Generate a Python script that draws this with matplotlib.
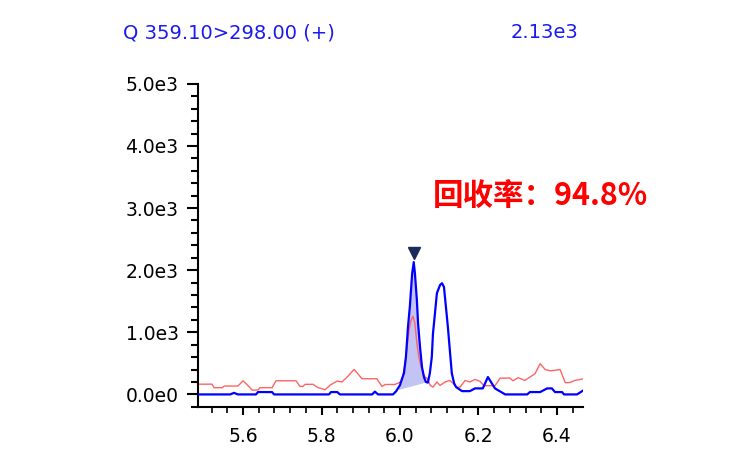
import matplotlib

matplotlib.use("Agg")
import matplotlib.pyplot as plt
import numpy as np
from matplotlib.ticker import FuncFormatter, MultipleLocator

# Quantifier trace (blue) and qualifier trace (red), retention time in min
blue_time = [5.485, 5.567, 5.577, 5.587, 5.633, 5.638, 5.674, 5.679, 5.819, 5.824,
             5.840, 5.847, 5.929, 5.936, 5.944, 5.982, 5.990, 5.995, 6.000, 6.005,
             6.010, 6.015, 6.018, 6.020, 6.025, 6.028, 6.031, 6.035, 6.038, 6.043,
             6.046, 6.051, 6.056, 6.061, 6.066, 6.071, 6.076, 6.081, 6.084, 6.089,
             6.094, 6.102, 6.107, 6.112, 6.117, 6.122, 6.127, 6.132, 6.138, 6.143,
             6.158, 6.178, 6.191, 6.211, 6.224, 6.242, 6.268, 6.324, 6.331, 6.357,
             6.375, 6.387, 6.395, 6.413, 6.418, 6.451, 6.466]
blue_int = [0, 0, 25, 0, 0, 38, 38, 0, 0, 38,
            38, 0, 0, 45, 0, 0, 50, 100, 150, 250,
            340, 600, 870, 1065, 1410, 1680, 1950, 2130, 1950, 1516,
            1145, 763, 440, 280, 200, 190, 340, 600, 980, 1300,
            1630, 1760, 1790, 1730, 1410, 1085, 710, 340, 177, 118,
            53, 53, 97, 97, 280, 97, 0, 0, 38, 38,
            97, 97, 38, 38, 0, 0, 60]

red_time = [5.485, 5.521, 5.526, 5.547, 5.552, 5.587, 5.600, 5.613, 5.623, 5.638,
            5.643, 5.674, 5.684, 5.735, 5.745, 5.753, 5.758, 5.778, 5.791, 5.809,
            5.822, 5.840, 5.852, 5.867, 5.883, 5.893, 5.903, 5.941, 5.954, 5.962,
            5.987, 5.998, 6.005, 6.013, 6.018, 6.023, 6.028, 6.033, 6.038, 6.043,
            6.048, 6.054, 6.059, 6.064, 6.069, 6.077, 6.084, 6.094, 6.102, 6.115,
            6.127, 6.135, 6.143, 6.153, 6.166, 6.178, 6.191, 6.204, 6.214, 6.242,
            6.255, 6.280, 6.288, 6.301, 6.318, 6.344, 6.357, 6.370, 6.383, 6.408,
            6.421, 6.431, 6.446, 6.466]
red_int = [165, 165, 108, 108, 135, 135, 220, 140, 70, 70,
           108, 108, 220, 220, 130, 130, 163, 163, 110, 75,
           150, 215, 200, 290, 403, 330, 253, 253, 128, 160,
           160, 190, 225, 500, 763, 1030, 1190, 1258, 1145, 822,
           600, 440, 340, 280, 260, 145, 118, 200, 145, 200,
           225, 180, 118, 118, 225, 200, 242, 210, 140, 140,
           263, 263, 220, 270, 225, 333, 495, 400, 380, 400,
           190, 190, 225, 250]

# Integrated peak: baseline drawn between these two points
base_time = [5.996, 6.066]
base_int = [80, 200]
apex_time = 6.035
apex_height = 2130

trace_label = "Q 359.10>298.00 (+)"
recovery_label = "回收率：94.8%"

fig = plt.figure(figsize=(7.56, 4.58), dpi=100)
ax = fig.add_axes([0.262, 0.111, 0.509, 0.706])

bt = np.array(blue_time)
bi = np.array(blue_int)
mask = (bt >= base_time[0]) & (bt <= base_time[1])
ft = np.concatenate([[base_time[0]], bt[mask], [base_time[1]]])
fi = np.interp(ft, bt, bi)
fb = np.interp(ft, base_time, base_int)
ax.fill_between(ft, fb, fi, color="#c4c4f4", lw=0, zorder=1)

ax.plot(red_time, red_int, color="#ff6464", lw=1.0, zorder=2)
ax.plot(blue_time, blue_int, color="#0000ff", lw=1.6, zorder=3)
ax.plot([apex_time], [apex_height + 150], marker="v", ms=8, color="#1c2a5c",
        zorder=4, clip_on=False)

ax.set_xlim(5.4854, 6.466)
ax.set_ylim(-205, 5000)

for side in ("top", "right"):
    ax.spines[side].set_visible(False)
for side in ("left", "bottom"):
    ax.spines[side].set_linewidth(1.5)

ax.xaxis.set_major_locator(MultipleLocator(0.2))
ax.xaxis.set_minor_locator(MultipleLocator(0.04))
ax.yaxis.set_major_locator(MultipleLocator(1000))
ax.yaxis.set_minor_locator(MultipleLocator(200))
ax.xaxis.set_major_formatter(FuncFormatter(lambda v, p: f"{v:.1f}"))


def sci(v, p):
    if abs(v) < 1e-9:
        return "0.0e0"
    e = int(np.floor(np.log10(abs(v))))
    return f"{v / 10 ** e:.1f}e{e}"


ax.yaxis.set_major_formatter(FuncFormatter(sci))
ax.tick_params(axis="both", which="major", direction="out", width=1.5,
               labelsize=13.5, colors="black")
ax.tick_params(axis="y", which="major", length=8, pad=6)
ax.tick_params(axis="y", which="minor", length=5, width=1.5)
ax.tick_params(axis="x", which="major", length=6, pad=8)
ax.tick_params(axis="x", which="minor", length=4, width=1.2)

fig.text(0.163, 0.928, trace_label, color="#1a1aee", fontsize=14,
         ha="left", va="center")
fig.text(0.765, 0.928, f"{apex_height / 1000:.2f}e3", color="#1a1aee", fontsize=14,
         ha="right", va="center")
ax.text(6.084, 3180, recovery_label, color="#ff0000", fontsize=22, fontweight="bold",
        ha="left", va="center", family=["Noto Sans CJK SC", "DejaVu Sans"],
        clip_on=False)

fig.savefig("out.png", dpi=100)
